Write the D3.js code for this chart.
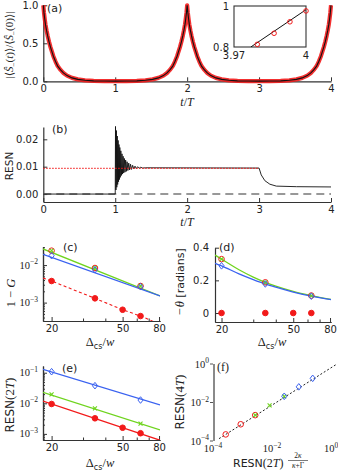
<!DOCTYPE html>
<html>
<head>
<meta charset="utf-8">
<script src="https://cdn.jsdelivr.net/npm/d3@7"></script>
<style>
body { margin: 0; background: #fff; }
</style>
</head>
<body>
<svg id="fig" width="338" height="474"></svg>
<script>
// ---- data ----
// (a) decay of |<S_(t)>/<S_(0)>| away from each revival
var revivalTimes = [0, 2, 4];
var decayOffsets = [0, 0.01, 0.02, 0.03, 0.045, 0.06, 0.08, 0.1, 0.12, 0.14, 0.17, 0.2, 0.24, 0.28, 0.33, 0.4, 0.48, 0.58, 0.7, 0.85, 1.0];
var decayValues  = [1.0, 0.9, 0.82, 0.75, 0.67, 0.6, 0.52, 0.45, 0.39, 0.33, 0.26, 0.2, 0.15, 0.11, 0.075, 0.045, 0.025, 0.013, 0.006, 0.003, 0.002];
var insetT = [3.9797, 3.9867, 3.9933, 4.0];
var insetV = [0.813, 0.867, 0.923, 0.976];
var insetLineT = [3.977, 4.0];
var insetLineV = [0.8, 0.982];

// (b) RESN vs t/T
var resnT = [0, 1.0, 1.004, 1.01, 1.016, 1.022, 1.028, 1.034, 1.04, 1.046, 1.052, 1.058, 1.064, 1.07,
  1.078, 1.086, 1.094, 1.102, 1.11, 1.118, 1.127, 1.136, 1.145, 1.155, 1.165, 1.176, 1.188, 1.2,
  1.213, 1.227, 1.242, 1.258, 1.275, 1.293, 1.312, 1.332, 1.355, 1.38, 1.42,
  3.0, 3.03, 3.08, 3.15, 3.24, 3.52, 4.0];
var resnV = [0, 0, 0.0247, 0.0015, 0.0232, 0.0025, 0.0212, 0.0035, 0.0196, 0.0045, 0.0181, 0.0053, 0.017, 0.0061,
  0.0158, 0.0068, 0.0147, 0.0073, 0.0138, 0.0077, 0.013, 0.008, 0.0124, 0.0083, 0.0118, 0.0086, 0.0113, 0.0088,
  0.0109, 0.009, 0.0105, 0.0092, 0.0102, 0.0093, 0.01, 0.0094, 0.0098, 0.0095, 0.0096,
  0.0095, 0.007, 0.0049, 0.0036, 0.0029, 0.0027, 0.0026];
var resnLevel = 0.0094;

// (c)-(e) vs Delta_cs / w
var deltaRed = [20, 35, 50, 63];
var deltaFit = [20, 35, 63];
var fitEnds = [17.9, 81];

var infidRed   = [0.00376, 0.0013, 0.000646, 0.000438];
var infidRedLineX = [17.9, 20, 35, 50, 63, 75];
var infidRedLineY = [0.0045, 0.00376, 0.0013, 0.000646, 0.000438, 0.00031];
var infidGreen = [0.0242, 0.00836, 0.00277];
var infidBlue  = [0.0178, 0.00753, 0.00265];
var infidGreenLine = [0.0269, 0.0015];
var infidBlueLine  = [0.0193, 0.0015];

var thetaRed   = [0, 0, 0, 0];
var thetaGreen = [0.33, 0.188, 0.107];
var thetaBlue  = [0.289, 0.178, 0.103];
var thetaCurveX = [18.4, 20, 25, 30, 35, 40, 50, 63, 81];
var thetaGreenCurve = [0.355, 0.33, 0.265, 0.22, 0.188, 0.165, 0.133, 0.107, 0.083];
var thetaBlueCurve  = [0.305, 0.289, 0.24, 0.205, 0.178, 0.158, 0.128, 0.103, 0.082];

var resn2Red   = [0.0095, 0.00323, 0.00159, 0.00105];
var resn2Green = [0.0197, 0.00687, 0.00215];
var resn2Blue  = [0.108, 0.0377, 0.0128];
var resn2RedLine   = [0.0119, 0.00062];
var resn2GreenLine = [0.0229, 0.00134];
var resn2BlueLine  = [0.129, 0.0088];

// (f) RESN(4T) vs scaled RESN(2T)
var fRedX   = [0.00027, 0.00087, 0.0027];
var fRedY   = [0.00022, 0.00074, 0.0022];
var fGreenX = [0.0027, 0.0083, 0.026];
var fGreenY = [0.0022, 0.0071, 0.021];
var fBlueX  = [0.026, 0.081, 0.24];
var fBlueY  = [0.021, 0.065, 0.18];
var diagX = [0.00016, 1.48];
var diagY = [0.000132, 0.93];

// tick values
var timeTicks = [0, 1, 2, 3, 4];
var deltaTicks = [20, 50, 80];
var deltaMinor = [30, 40, 60, 70];

// ---- drawing ----
var RED = '#f21a1a', GREEN = '#6fd41e', BLUE = '#3a62f0', AX = '#333';
var SANS = '"DejaVu Sans", sans-serif', SERIF = '"Liberation Serif", "DejaVu Serif", serif';
var svg = d3.select('#fig');
svg.append('rect').attr('width', 338).attr('height', 474).attr('fill', '#fff');
var defs = svg.append('defs');

function zip(xs, ys) { return xs.map(function (x, i) { return [x, ys[i]]; }); }

function clipRect(id, x0, y0, x1, y1) {
    defs.append('clipPath').attr('id', id).append('rect')
        .attr('x', x0).attr('y', y0).attr('width', x1 - x0).attr('height', y1 - y0);
}

function axis(gen, tx, ty) {
    var g = svg.append('g').attr('transform', 'translate(' + tx + ',' + ty + ')').call(gen);
    g.attr('font-family', SANS).attr('font-size', 10);
    g.select('.domain').attr('stroke', AX).attr('stroke-width', 1.2);
    g.selectAll('.tick line').attr('stroke', AX);
    g.selectAll('.tick text').attr('fill', '#222');
    return g;
}

function pow10(x, y, e, anchor) {
    var t = svg.append('text').attr('x', x).attr('y', y).attr('text-anchor', anchor)
        .attr('font-family', SERIF).attr('font-size', 10.5).attr('fill', '#222');
    t.append('tspan').text('10');
    t.append('tspan').attr('font-size', 7.5).attr('dy', -4.5).text(e < 0 ? '\u2212' + (-e) : e);
}

function label(x, y, size, parts, rotate, anchor) {
    var t = svg.append('text').attr('text-anchor', anchor || 'middle').attr('fill', '#222')
        .attr('font-size', size);
    if (rotate) t.attr('transform', 'translate(' + x + ',' + y + ') rotate(-90)');
    else t.attr('x', x).attr('y', y);
    parts.forEach(function (p) {
        var s = t.append('tspan').text(p.t).attr('font-family', p.sans ? SANS : SERIF);
        if (p.i) s.attr('font-style', 'italic');
        if (p.s) s.attr('font-size', p.s);
        if (p.dy) s.attr('dy', p.dy);
    });
    return t;
}

function deltaLabel(x, y) {
    label(x, y, 12.5, [{t: '\u0394'}, {t: 'cs', sans: 1, s: 8, dy: 2.5}, {t: '/', dy: -2.5}, {t: 'w', i: 1}]);
}

function circles(g, pts, r, fill, stroke) {
    g.selectAll(null).data(pts).enter().append('circle')
        .attr('cx', function (d) { return d[0]; }).attr('cy', function (d) { return d[1]; })
        .attr('r', r).attr('fill', fill).attr('stroke', stroke).attr('stroke-width', 1);
}
function diamonds(g, pts, color) {
    g.selectAll(null).data(pts).enter().append('path')
        .attr('d', function (d) { return 'M' + d[0] + ',' + (d[1] - 3.3) + 'L' + (d[0] + 2.6) + ',' + d[1] + 'L' + d[0] + ',' + (d[1] + 3.3) + 'L' + (d[0] - 2.6) + ',' + d[1] + 'Z'; })
        .attr('fill', 'none').attr('stroke', color).attr('stroke-width', 1);
}
function crosses(g, pts, color) {
    g.selectAll(null).data(pts).enter().append('path')
        .attr('d', function (d) { return 'M' + (d[0] - 2) + ',' + (d[1] - 2) + 'L' + (d[0] + 2) + ',' + (d[1] + 2) + 'M' + (d[0] - 2) + ',' + (d[1] + 2) + 'L' + (d[0] + 2) + ',' + (d[1] - 2); })
        .attr('stroke', color).attr('stroke-width', 1.1);
}

// ===== (a) =====
var xa = d3.scaleLinear().domain([0, 4]).range([43.3, 331]);
var ya = d3.scaleLinear().domain([0, 1]).range([81.3, 5.3]);

function flank(centre, dir) {
    return decayOffsets.map(function (d, i) { return [centre + dir * d, decayValues[i]]; });
}
var curveA = flank(revivalTimes[0], 1)
    .concat(flank(revivalTimes[1], -1).reverse(), flank(revivalTimes[1], 1), flank(revivalTimes[2], -1).reverse());
var lineA = d3.line().x(function (d) { return xa(d[0]); }).y(function (d) { return ya(d[1]); });

axis(d3.axisBottom(xa).tickValues(timeTicks).tickSizeInner(-4).tickSizeOuter(0).tickPadding(4).tickFormat(d3.format('d')), 0, 81.3);
axis(d3.axisLeft(ya).tickValues([0, 0.5, 1]).tickSizeInner(-4).tickSizeOuter(0).tickPadding(5).tickFormat(d3.format('.1f')), 43.3, 0);

svg.append('path').attr('d', lineA(curveA)).attr('fill', 'none').attr('stroke', RED)
    .attr('stroke-width', 4.2).attr('stroke-linejoin', 'round').attr('stroke-opacity', 0.9);
svg.append('path').attr('d', lineA(curveA)).attr('fill', 'none').attr('stroke', '#111').attr('stroke-width', 1.1);

label(47, 11.5, 11, [{t: '(a)', sans: 1}], false, 'start');
label(12.5, 45, 11, [{t: '|\u27E8'}, {t: '\u015C', i: 1}, {t: '\u2212', s: 7, dy: 3}, {t: '(', dy: -3}, {t: 't', i: 1},
    {t: ')\u27E9/\u27E8'}, {t: '\u015C', i: 1}, {t: '\u2212', s: 7, dy: 3}, {t: '(0)\u27E9|', dy: -3}], true);
label(187, 106, 12, [{t: 't', i: 1}, {t: '/'}, {t: 'T', i: 1}]);

// inset
var xi = d3.scaleLinear().domain([3.97, 4]).range([234, 306]);
var yi = d3.scaleLinear().domain([0.8, 1]).range([47, 6]);
clipRect('clipInset', 234, 6, 306, 47);
svg.append('rect').attr('x', 234).attr('y', 6).attr('width', 72).attr('height', 41)
    .attr('fill', '#fff').attr('stroke', AX).attr('stroke-width', 1.1);
var gi = svg.append('g').attr('clip-path', 'url(#clipInset)');
gi.append('path').attr('d', d3.line().x(function (d) { return xi(d[0]); }).y(function (d) { return yi(d[1]); })(zip(insetLineT, insetLineV)))
    .attr('stroke', '#111').attr('stroke-width', 1);
circles(svg, zip(insetT, insetV).map(function (d) { return [xi(d[0]), yi(d[1])]; }), 2.3, 'none', RED);
svg.selectAll(null).data([[1, 229, 6], [0.8, 229, 47]]).enter().append('text')
    .attr('x', function (d) { return d[1]; }).attr('y', function (d) { return d[2]; }).attr('dy', '0.35em')
    .attr('text-anchor', 'end').attr('font-family', SANS).attr('font-size', 10).attr('fill', '#222')
    .text(function (d) { return d[0]; });
svg.selectAll(null).data([3.97, 4]).enter().append('text')
    .attr('x', function (d) { return xi(d); }).attr('y', 59).attr('text-anchor', 'middle')
    .attr('font-family', SANS).attr('font-size', 10).attr('fill', '#222').text(function (d) { return d; });

// ===== (b) =====
var yb = d3.scaleLinear().domain([-0.0029, 0.0245]).range([202, 127]);
axis(d3.axisBottom(xa).tickValues(timeTicks).tickSizeInner(-4).tickSizeOuter(0).tickPadding(4).tickFormat(d3.format('d')), 0, 202);
axis(d3.axisLeft(yb).tickValues([0, 0.01, 0.02]).tickSizeInner(-4).tickSizeOuter(0).tickPadding(5).tickFormat(d3.format('.2f')), 43.3, 0);

svg.append('line').attr('x1', xa(0)).attr('x2', xa(4)).attr('y1', yb(0)).attr('y2', yb(0))
    .attr('stroke', '#777').attr('stroke-width', 1.6).attr('stroke-dasharray', '8,5');
var lineB = d3.line().x(function (d) { return xa(d[0]); }).y(function (d) { return yb(d[1]); });
svg.append('path').attr('d', lineB(zip(resnT, resnV))).attr('fill', 'none').attr('stroke', '#111').attr('stroke-width', 0.9);
svg.append('line').attr('x1', xa(0)).attr('x2', xa(3)).attr('y1', yb(resnLevel)).attr('y2', yb(resnLevel))
    .attr('stroke', RED).attr('stroke-width', 1.2).attr('stroke-dasharray', '1.3,1.7');

label(52, 132.5, 11, [{t: '(b)', sans: 1}], false, 'start');
label(13, 166, 10.5, [{t: 'RESN', sans: 1}], true);
label(187, 226, 12, [{t: 't', i: 1}, {t: '/'}, {t: 'T', i: 1}]);

// ===== shared pieces for the three small log panels =====
function logYAxis(scale, x, majors, minors, labelX) {
    axis(d3.axisLeft(scale).tickValues(minors).tickSizeInner(-2).tickSizeOuter(0).tickFormat(''), x, 0);
    axis(d3.axisLeft(scale).tickValues(majors).tickSizeInner(-4).tickSizeOuter(0).tickFormat(''), x, 0);
    majors.forEach(function (v) { pow10(labelX, scale(v) + 3.5, Math.round(Math.log10(v)), 'end'); });
}
function deltaXAxis(scale, y) {
    axis(d3.axisBottom(scale).tickValues(deltaMinor).tickSizeInner(-2.5).tickSizeOuter(0).tickFormat(''), 0, y);
    axis(d3.axisBottom(scale).tickValues(deltaTicks).tickSizeInner(-4).tickSizeOuter(0).tickPadding(4).tickFormat(d3.format('d')), 0, y);
}
function minorDecades(lo, hi) {
    var out = [];
    for (var e = -5; e <= 0; e++) for (var m = 2; m <= 9; m++) { var v = m * Math.pow(10, e); if (v >= lo && v <= hi) out.push(v); }
    return out;
}

// ===== (c) =====
var xc = d3.scaleLog().domain([17.9, 81]).range([43, 160]);
var yc = d3.scaleLog().domain([Math.pow(10, -3.49), Math.pow(10, -1.51)]).range([321, 246.7]);
clipRect('clipC', 43, 246.7, 160, 321);
logYAxis(yc, 43, [1e-2, 1e-3], minorDecades(yc.domain()[0], yc.domain()[1]), 38);
deltaXAxis(xc, 321);
var gc = svg.append('g').attr('clip-path', 'url(#clipC)');
var lineC = d3.line().x(function (d) { return xc(d[0]); }).y(function (d) { return yc(d[1]); });
gc.append('path').attr('d', lineC(zip(infidRedLineX, infidRedLineY))).attr('fill', 'none')
    .attr('stroke', RED).attr('stroke-width', 1.1).attr('stroke-dasharray', '3,2.5');
gc.append('path').attr('d', lineC(zip(fitEnds, infidGreenLine))).attr('stroke', GREEN).attr('stroke-width', 1.3);
gc.append('path').attr('d', lineC(zip(fitEnds, infidBlueLine))).attr('stroke', BLUE).attr('stroke-width', 1.3);
var pc = function (xs, ys) { return zip(xs, ys).map(function (d) { return [xc(d[0]), yc(d[1])]; }); };
circles(svg, pc(deltaRed, infidRed), 2.8, RED, RED);
circles(svg, pc(deltaFit, infidGreen), 2.8, 'none', RED);
crosses(svg, pc(deltaFit, infidGreen), GREEN);
diamonds(svg, pc(deltaFit, infidBlue), BLUE);
label(63, 251, 11, [{t: '(c)', sans: 1}], false, 'start');
label(15, 293, 12.5, [{t: '1 \u2212 '}, {t: 'G', i: 1}], true);
deltaLabel(100, 346);

// ===== (d) =====
var xd = d3.scaleLog().domain([18.4, 81]).range([215, 331]);
var yd = d3.scaleLinear().domain([-0.055, 0.4]).range([322, 247.7]);
clipRect('clipD', 215, 247.7, 331, 322);
axis(d3.axisLeft(yd).tickValues([0, 0.2, 0.4]).tickSizeInner(-4).tickSizeOuter(0).tickPadding(6).tickFormat(function (d) { return d === 0 ? '0' : d3.format('.1f')(d); }), 215, 0);
deltaXAxis(xd, 322);
var gd = svg.append('g').attr('clip-path', 'url(#clipD)');
var lineD = d3.line().curve(d3.curveMonotoneX).x(function (d) { return xd(d[0]); }).y(function (d) { return yd(d[1]); });
gd.append('path').attr('d', lineD(zip(thetaCurveX, thetaGreenCurve))).attr('fill', 'none').attr('stroke', GREEN).attr('stroke-width', 1.3);
gd.append('path').attr('d', lineD(zip(thetaCurveX, thetaBlueCurve))).attr('fill', 'none').attr('stroke', BLUE).attr('stroke-width', 1.3);
var pd = function (xs, ys) { return zip(xs, ys).map(function (d) { return [xd(d[0]), yd(d[1])]; }); };
circles(svg, pd(deltaRed, thetaRed), 2.8, RED, RED);
circles(svg, pd(deltaFit, thetaGreen), 2.8, 'none', RED);
crosses(svg, pd(deltaFit, thetaGreen), GREEN);
diamonds(svg, pd(deltaFit, thetaBlue), BLUE);
label(219, 251, 11, [{t: '(d)', sans: 1}], false, 'start');
label(184, 282, 11, [{t: '\u2212\u03B8', i: 1, s: 12.5}, {t: ' [radians]', sans: 1}], true);
deltaLabel(272, 346);

// ===== (e) =====
var ye = d3.scaleLog().domain([Math.pow(10, -3.2), Math.pow(10, -0.78)]).range([440, 366]);
clipRect('clipE', 43, 366, 160, 440);
logYAxis(ye, 43, [1e-1, 1e-2, 1e-3], minorDecades(ye.domain()[0], ye.domain()[1]), 38);
deltaXAxis(xc, 440);
var ge = svg.append('g').attr('clip-path', 'url(#clipE)');
var lineE = d3.line().x(function (d) { return xc(d[0]); }).y(function (d) { return ye(d[1]); });
ge.append('path').attr('d', lineE(zip(fitEnds, resn2BlueLine))).attr('stroke', BLUE).attr('stroke-width', 1.3);
ge.append('path').attr('d', lineE(zip(fitEnds, resn2GreenLine))).attr('stroke', GREEN).attr('stroke-width', 1.3);
ge.append('path').attr('d', lineE(zip(fitEnds, resn2RedLine))).attr('stroke', RED).attr('stroke-width', 1.3);
var pe = function (xs, ys) { return zip(xs, ys).map(function (d) { return [xc(d[0]), ye(d[1])]; }); };
diamonds(svg, pe(deltaFit, resn2Blue), BLUE);
crosses(svg, pe(deltaFit, resn2Green), GREEN);
circles(svg, pe(deltaRed, resn2Red), 2.8, RED, RED);
label(62, 372, 11, [{t: '(e)', sans: 1}], false, 'start');
label(14, 405, 12, [{t: 'RESN', sans: 1}, {t: '(2', s: 13}, {t: 'T', i: 1, s: 13}, {t: ')', s: 13}], true);
deltaLabel(100, 467);

// ===== (f) =====
var xf = d3.scaleLog().domain([1e-4, 1]).range([213, 331]);
var yf = d3.scaleLog().domain([1e-4, 1]).range([441, 364]);
svg.append('line').attr('x1', 214).attr('x2', 214).attr('y1', 364).attr('y2', 441)
    .attr('stroke', '#8a8a8a').attr('stroke-width', 2);
[1, 1e-2, 1e-4].forEach(function (v) {
    svg.append('line').attr('x1', 210).attr('x2', 213).attr('y1', yf(v)).attr('y2', yf(v)).attr('stroke', '#555');
    pow10(209, yf(v) + 3.5, Math.round(Math.log10(v)), 'end');
});
[1e-4, 1e-2, 1].forEach(function (v) { pow10(xf(v), 452, Math.round(Math.log10(v)), 'middle'); });
var lineF = d3.line().x(function (d) { return xf(d[0]); }).y(function (d) { return yf(d[1]); });
svg.append('path').attr('d', lineF(zip(diagX, diagY))).attr('stroke', '#222').attr('stroke-width', 1)
    .attr('stroke-dasharray', '2,2');
var pf = function (xs, ys) { return zip(xs, ys).map(function (d) { return [xf(d[0]), yf(d[1])]; }); };
circles(svg, pf(fRedX, fRedY), 2.8, 'none', RED);
crosses(svg, pf(fGreenX, fGreenY), GREEN);
diamonds(svg, pf(fBlueX, fBlueY), BLUE);
label(217, 371, 12, [{t: '(f)'}], false, 'start');
label(184, 402, 12, [{t: 'RESN', sans: 1}, {t: '(4', s: 13}, {t: 'T', i: 1, s: 13}, {t: ')', s: 13}], true);
label(233, 467, 11, [{t: 'RESN', sans: 1}, {t: '(2', s: 12}, {t: 'T', i: 1, s: 12}, {t: ')', s: 12}], false, 'start');
label(298, 458, 7.5, [{t: '2'}, {t: '\u03BA', i: 1}]);
svg.append('line').attr('x1', 288).attr('x2', 308).attr('y1', 460.5).attr('y2', 460.5).attr('stroke', '#222').attr('stroke-width', 0.6);
label(298, 467.5, 7.5, [{t: '\u03BA', i: 1}, {t: '+\u0393'}]);
</script>
</body>
</html>
